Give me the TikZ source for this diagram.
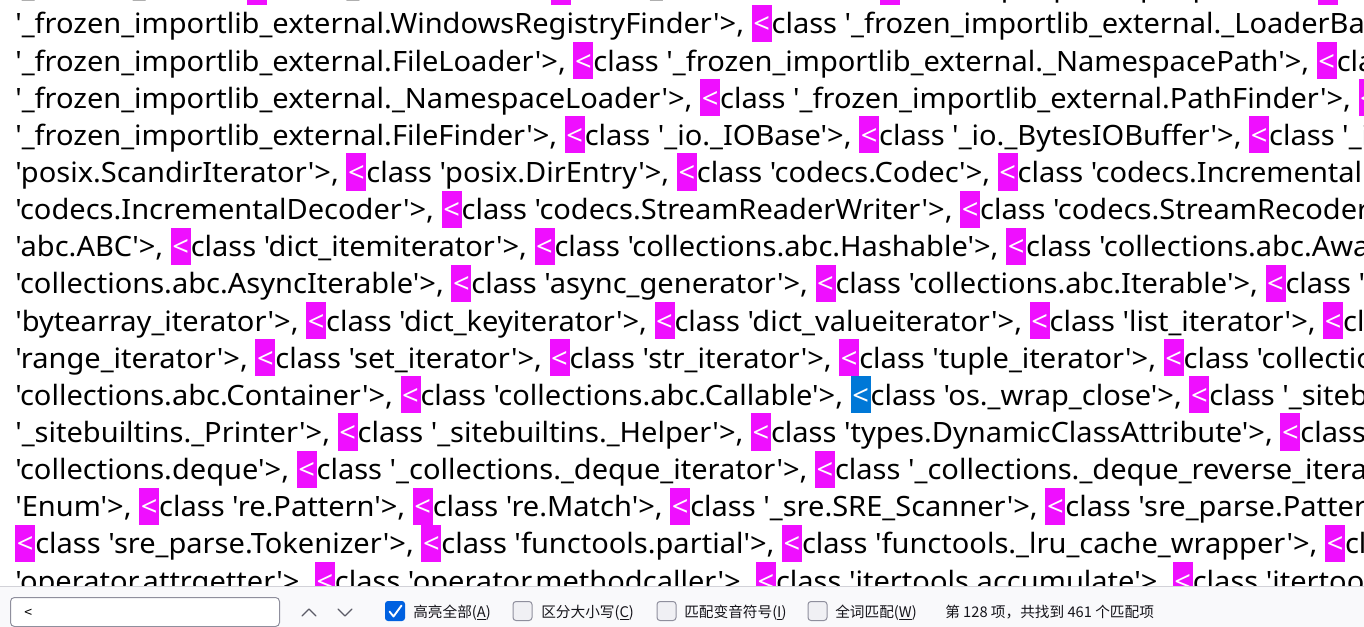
\documentclass[tikz,border=0pt]{standalone}
\usepackage{fontspec}
\newfontfamily\codefont{Noto Sans}[Ligatures=TeXOff, FakeStretch=1.037]
\newfontfamily\cjk{Noto Sans CJK SC}
\definecolor{hlmag}{HTML}{EF0FFF}
\definecolor{hlblue}{HTML}{0078D7}
\definecolor{barbg}{HTML}{F9F9FB}
\definecolor{barline}{HTML}{D2D2D8}
\definecolor{ctlborder}{HTML}{8F8F9D}
\definecolor{ctlfill}{HTML}{F0F0F4}
\definecolor{checkblue}{HTML}{0061E0}
\definecolor{labeltext}{HTML}{15141A}
\definecolor{arrowgray}{HTML}{5B5B66}
\newcommand\hlmark[1]{\rlap{\textcolor{#1}{\rule[-6pt]{15pt}{27.86pt}}}\makebox[15pt]{\textcolor{white}{<}}}
\newcommand\hlM{\hlmark{hlmag}}
\newcommand\hlB{\hlmark{hlblue}}
\tikzset{
  codeline/.style={anchor=base west, inner sep=0pt, font=\codefont\fontsize{21pt}{27.86pt}\selectfont, text=black},
  barlabel/.style={anchor=base west, inner sep=0pt, font=\cjk\fontsize{11pt}{12pt}\selectfont, text=labeltext},
  checkoff/.style={draw=ctlborder, fill=ctlfill, line width=0.75pt, rounded corners=2.25pt},
  checkon/.style={fill=checkblue, rounded corners=2.25pt},
  chevron/.style={draw=arrowgray, line width=1pt, line cap=round, line join=round}
}
\begin{document}
\begin{tikzpicture}[x=0.75pt, y=-0.75pt]
\useasboundingbox (0,0) rectangle (1364,627);
\fill[white] (0,0) rectangle (1364,627);
\begin{scope}
\clip (0,0) rectangle (1364,586);
\node[codeline] (l0) at (15,-3.14) {'\_thread.\_local'>, \hlM class '\_thread.lock'>, \hlM class '\_thread.RLock'>, \hlM class 'zipimport.zipimporter'>, \hlM class};
\node[codeline] (l1) at (15,34) {'\_frozen\_importlib\_external.WindowsRegistryFinder'>, \hlM class '\_frozen\_importlib\_external.\_LoaderBasics'>, \hlM class};
\node[codeline] (l2) at (15,71.14) {'\_frozen\_importlib\_external.FileLoader'>, \hlM class '\_frozen\_importlib\_external.\_NamespacePath'>, \hlM class};
\node[codeline] (l3) at (15,108.28) {'\_frozen\_importlib\_external.\_NamespaceLoader'>, \hlM class '\_frozen\_importlib\_external.PathFinder'>, \hlM class};
\node[codeline] (l4) at (15,145.42) {'\_frozen\_importlib\_external.FileFinder'>, \hlM class '\_io.\_IOBase'>, \hlM class '\_io.\_BytesIOBuffer'>, \hlM class '\_io.\_IncrementalNewlineDecoder'>,};
\node[codeline] (l5) at (15,182.56) {'posix.ScandirIterator'>, \hlM class 'posix.DirEntry'>, \hlM class 'codecs.Codec'>, \hlM class 'codecs.IncrementalEncoder'>, \hlM class};
\node[codeline] (l6) at (15,219.70) {'codecs.IncrementalDecoder'>, \hlM class 'codecs.StreamReaderWriter'>, \hlM class 'codecs.StreamRecoder'>, \hlM class '\_abc.\_abc\_data'>, \hlM class};
\node[codeline] (l7) at (15,256.84) {'abc.ABC'>, \hlM class 'dict\_itemiterator'>, \hlM class 'collections.abc.Hashable'>, \hlM class 'collections.abc.Awaitable'>, \hlM class};
\node[codeline] (l8) at (15,293.98) {'collections.abc.AsyncIterable'>, \hlM class 'async\_generator'>, \hlM class 'collections.abc.Iterable'>, \hlM class 'bytes\_iterator'>, \hlM class};
\node[codeline] (l9) at (15,331.12) {'bytearray\_iterator'>, \hlM class 'dict\_keyiterator'>, \hlM class 'dict\_valueiterator'>, \hlM class 'list\_iterator'>, \hlM class 'list\_reverseiterator'>,};
\node[codeline] (l10) at (15,368.26) {'range\_iterator'>, \hlM class 'set\_iterator'>, \hlM class 'str\_iterator'>, \hlM class 'tuple\_iterator'>, \hlM class 'collections.abc.Sized'>,};
\node[codeline] (l11) at (15,405.40) {'collections.abc.Container'>, \hlM class 'collections.abc.Callable'>, \hlB class 'os.\_wrap\_close'>, \hlM class '\_sitebuiltins.Quitter'>, \hlM class};
\node[codeline] (l12) at (15,442.54) {'\_sitebuiltins.\_Printer'>, \hlM class '\_sitebuiltins.\_Helper'>, \hlM class 'types.DynamicClassAttribute'>, \hlM class 'types.\_GeneratorWrapper'>,};
\node[codeline] (l13) at (15,479.68) {'collections.deque'>, \hlM class '\_collections.\_deque\_iterator'>, \hlM class '\_collections.\_deque\_reverse\_iterator'>, \hlM class};
\node[codeline] (l14) at (15,516.82) {'Enum'>, \hlM class 're.Pattern'>, \hlM class 're.Match'>, \hlM class '\_sre.SRE\_Scanner'>, \hlM class 'sre\_parse.Pattern'>,};
\node[codeline] (l15) at (15,553.96) {\hlM class 'sre\_parse.Tokenizer'>, \hlM class 'functools.partial'>, \hlM class 'functools.\_lru\_cache\_wrapper'>, \hlM class 'functools.KeyWrapper'>,};
\node[codeline] (l16) at (15,591.10) {'operator.attrgetter'>, \hlM class 'operator.methodcaller'>, \hlM class 'itertools.accumulate'>, \hlM class 'itertools.combinations'>,};
\end{scope}
% find bar
\fill[barbg] (0,586) rectangle (1364,627);
\draw[barline, line width=0.75pt] (0,586.5) -- (1364,586.5);
\draw[ctlborder, fill=white, line width=0.75pt, rounded corners=3pt] (10.5,597.5) rectangle (279.5,626.5);
\node[anchor=base west, inner sep=0pt, font=\cjk\fontsize{10.5pt}{12pt}\selectfont] (findtext) at (24,617) {<};
\coordinate (upa) at (302,616); \coordinate (upb) at (309,609); \coordinate (upc) at (316,616);
\draw[chevron] (upa) -- (upb) -- (upc);
\coordinate (dna) at (338,609); \coordinate (dnb) at (345,616); \coordinate (dnc) at (352,609);
\draw[chevron] (dna) -- (dnb) -- (dnc);
% checkboxes
\path[checkon] (385,601) rectangle (405,621);
\coordinate (cka) at (389.5,611.5); \coordinate (ckb) at (393.5,616.5); \coordinate (ckc) at (401.5,605.5);
\draw[white, line width=1.4pt, line cap=round, line join=round] (cka) -- (ckb) -- (ckc);
\node[barlabel] (lab1) at (413,617) {高亮全部(\underline{A})};
\path[checkoff] (513,601.5) rectangle (532,620.5);
\node[barlabel] (lab2) at (541,617) {区分大小写(\underline{C})};
\path[checkoff] (657,601.5) rectangle (676,620.5);
\node[barlabel] (lab3) at (684,617) {匹配变音符号(\underline{I})};
\path[checkoff] (808,601.5) rectangle (827,620.5);
\node[barlabel] (lab4) at (835,617) {全词匹配(\underline{W})};
\node[barlabel] (status) at (945,617) {第 128 项，共找到 461 个匹配项};
\end{tikzpicture}
\end{document}
